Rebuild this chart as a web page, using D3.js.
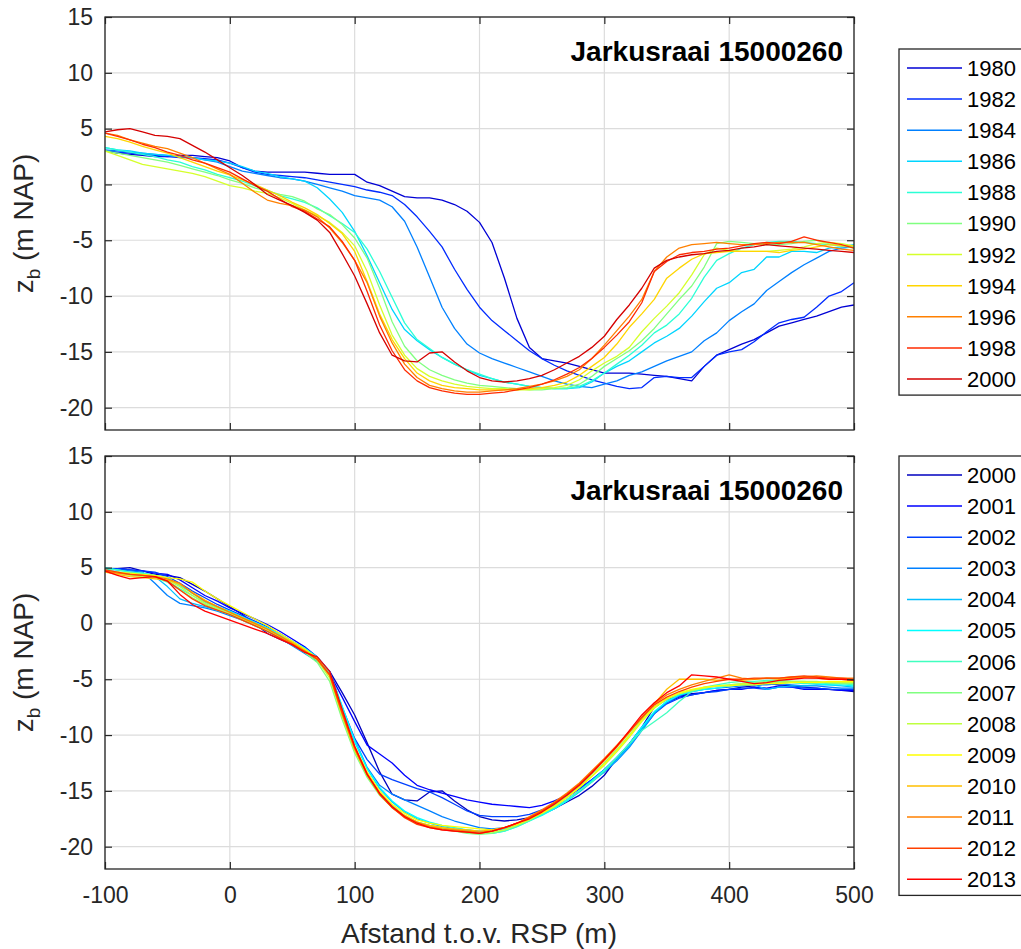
<!DOCTYPE html>
<html>
<head>
<meta charset="utf-8">
<script src="https://cdn.jsdelivr.net/npm/d3@7"></script>
<style>
  body { margin: 0; background: #fff; }
  svg { display: block; font-family: "Liberation Sans", Arial, Helvetica, sans-serif; }
</style>
</head>
<body>
<svg id="chart"></svg>
<script>
// afstand t.o.v. RSP (m)
var afstand = [-100, -90, -80, -70, -60, -50, -40, -30, -20, -10,
  0, 10, 20, 30, 40, 50, 60, 70, 80, 90,
  100, 110, 120, 130, 140, 150, 160, 170, 180, 190,
  200, 210, 220, 230, 240, 250, 260, 270, 280, 290,
  300, 310, 320, 330, 340, 350, 360, 370, 380, 390,
  400, 410, 420, 430, 440, 450, 460, 470, 480, 490,
  500];

var xTicks = [-100, 0, 100, 200, 300, 400, 500];
var yTicks = [-20, -15, -10, -5, 0, 5, 10, 15];
var titleText = "Jarkusraai 15000260";

// bodemligging z_b (m NAP) per jaar
var z1980 = [3.0, 2.8, 2.7, 2.6, 2.5, 2.5, 2.6, 2.6, 2.5, 2.4,
  2.1, 1.5, 1.2, 1.1, 1.1, 1.1, 1.1, 1.0, 0.9, 0.9,
  0.9, 0.2, -0.1, -0.6, -1.1, -1.2, -1.2, -1.4, -1.8, -2.4,
  -3.4, -5.2, -8.4, -12.0, -14.6, -15.6, -15.8, -16.0, -16.3, -16.6,
  -16.9, -16.9, -16.9, -17.0, -17.1, -17.2, -17.4, -17.6, -16.3, -15.3,
  -14.8, -14.3, -13.9, -13.3, -12.7, -12.4, -12.1, -11.8, -11.4, -11.0,
  -10.8];
var z1982 = [3.0, 2.9, 2.8, 2.7, 2.6, 2.5, 2.4, 2.4, 2.3, 2.2,
  1.9, 1.5, 1.1, 0.9, 0.8, 0.7, 0.6, 0.4, 0.2, 0.0,
  -0.2, -0.5, -0.7, -1.0, -1.8, -2.9, -4.2, -5.6, -7.6, -9.4,
  -11.0, -12.2, -13.1, -14.0, -14.9, -15.6, -16.2, -16.7, -17.1, -17.5,
  -17.8, -18.1, -18.3, -18.2, -17.3, -17.2, -17.3, -17.3, -16.3, -15.3,
  -15.0, -14.8, -14.1, -13.2, -12.4, -12.1, -11.9, -11.0, -10.0, -9.6,
  -8.8];
var z1984 = [3.1, 3.0, 2.9, 2.8, 2.7, 2.6, 2.5, 2.4, 2.2, 2.0,
  1.6, 1.2, 1.0, 0.8, 0.6, 0.5, 0.3, 0.0, -0.3, -0.6,
  -1.0, -1.2, -1.4, -2.0, -3.3, -5.6, -8.3, -11.0, -12.9, -14.3,
  -15.1, -15.6, -16.0, -16.4, -16.8, -17.2, -17.6, -17.9, -18.1, -18.2,
  -17.9, -17.6, -17.1, -16.8, -16.3, -15.8, -15.4, -15.0, -14.0, -13.3,
  -12.2, -11.4, -10.7, -9.5, -8.7, -7.9, -7.2, -6.6, -6.0, -5.7,
  -5.6];
var z1986 = [3.3, 3.1, 3.0, 2.8, 2.7, 2.6, 2.5, 2.4, 2.2, 2.1,
  1.9, 1.6, 1.2, 1.0, 0.7, 0.5, 0.3, -0.3, -1.3, -2.5,
  -4.2, -6.4, -8.8, -11.2, -13.0, -14.0, -14.8, -15.5, -16.1, -16.6,
  -17.1, -17.4, -17.7, -17.9, -18.1, -18.2, -18.3, -18.3, -18.2, -17.7,
  -16.9, -16.3, -15.8, -15.0, -14.2, -13.6, -12.9, -11.8, -10.5, -9.3,
  -8.8, -7.9, -7.6, -6.5, -6.5, -6.0, -6.0, -6.1, -5.7, -5.6,
  -5.4];
var z1988 = [3.3, 3.1, 2.9, 2.7, 2.5, 2.2, 2.0, 1.6, 1.3, 0.9,
  0.6, 0.3, -0.1, -0.5, -1.0, -1.3, -1.6, -2.1, -2.8, -3.5,
  -4.3, -5.8, -7.8, -10.1, -12.4, -13.9, -14.7, -15.5, -16.1, -16.6,
  -17.0, -17.4, -17.7, -17.9, -18.1, -18.2, -18.3, -18.3, -18.1, -17.6,
  -16.9, -16.1, -15.3, -14.4, -13.3, -12.6, -11.6, -10.2, -8.3, -6.8,
  -6.2, -5.7, -5.4, -5.2, -5.1, -5.1, -5.2, -5.3, -5.4, -5.5,
  -5.6];
var z1990 = [3.0, 2.8, 2.6, 2.4, 2.2, 2.0, 1.7, 1.4, 1.1, 0.8,
  0.4, 0.1, -0.3, -0.6, -0.9, -1.1, -1.5, -2.2, -2.7, -3.6,
  -4.8, -6.6, -9.3, -12.3, -14.5, -15.8, -16.6, -17.1, -17.5, -17.8,
  -18.0, -18.1, -18.2, -18.3, -18.4, -18.4, -18.3, -18.2, -17.9, -17.2,
  -16.3, -15.6, -14.9, -14.0, -12.9, -11.6, -10.3, -9.1, -7.4, -5.3,
  -5.1, -5.2, -5.3, -5.4, -5.4, -5.3, -5.1, -5.0, -5.3, -5.5,
  -5.7];
var z1992 = [3.0, 2.6, 2.2, 1.8, 1.6, 1.4, 1.2, 1.0, 0.7, 0.3,
  -0.1, -0.3, -0.6, -0.8, -1.2, -1.7, -2.3, -2.8, -3.4, -4.3,
  -5.5, -7.8, -10.8, -13.5, -15.3, -16.5, -17.2, -17.6, -17.9, -18.1,
  -18.2, -18.3, -18.3, -18.4, -18.4, -18.3, -18.2, -18.0, -17.5, -16.7,
  -16.0, -15.4, -14.6, -13.2, -12.0, -10.9, -9.7, -8.1, -6.3, -5.7,
  -5.9, -6.0, -6.0, -6.0, -5.9, -5.8, -5.6, -5.3, -5.2, -5.3,
  -5.5];
var z1994 = [4.3, 4.1, 3.8, 3.4, 3.1, 2.8, 2.4, 2.0, 1.6, 1.2,
  0.85, 0.4, 0.0, -0.5, -1.0, -1.6, -2.1, -2.7, -3.5, -4.4,
  -6.0, -8.7, -11.6, -13.9, -15.6, -16.9, -17.6, -18.0, -18.2, -18.3,
  -18.4, -18.4, -18.4, -18.4, -18.3, -18.2, -18.0, -17.7, -17.1, -16.3,
  -15.5, -14.3, -12.8, -11.6, -10.3, -8.4, -7.5, -6.7, -6.2, -6.1,
  -6.0, -6.0, -6.0, -6.0, -6.1, -5.9, -5.8, -5.6, -5.4, -5.5,
  -5.5];
var z1996 = [4.6, 4.4, 4.0, 3.7, 3.4, 3.2, 2.8, 2.4, 1.9, 1.4,
  0.9, 0.1, -0.7, -1.4, -1.7, -1.9, -2.3, -2.9, -3.9, -5.2,
  -6.8, -8.8, -11.8, -14.2, -16.1, -17.3, -18.0, -18.3, -18.5, -18.6,
  -18.6, -18.5, -18.4, -18.3, -18.1, -17.9, -17.6, -17.2, -16.6, -15.6,
  -14.4, -13.1, -11.8, -10.3, -7.8, -6.5, -5.7, -5.4, -5.3, -5.2,
  -5.3, -5.4, -5.4, -5.3, -5.2, -5.2, -5.2, -5.4, -5.6, -5.8,
  -5.9];
var z1998 = [4.6, 4.3, 4.0, 3.6, 3.3, 2.9, 2.6, 2.2, 1.9, 1.5,
  1.1, 0.5, -0.1, -0.6, -1.3, -2.0, -2.4, -3.1, -3.8, -5.1,
  -6.8, -9.6, -12.6, -14.9, -16.6, -17.6, -18.2, -18.5, -18.7, -18.8,
  -18.8, -18.7, -18.6, -18.4, -18.2, -17.9, -17.5, -17.0, -16.4, -15.6,
  -14.6, -13.5, -12.3, -10.6, -7.8, -6.9, -6.3, -6.1, -6.0, -5.8,
  -5.7, -5.5, -5.3, -5.2, -5.3, -5.1, -4.7, -5.0, -5.2, -5.4,
  -5.7];
var z2000 = [4.7, 4.9, 5.0, 4.7, 4.4, 4.3, 4.1, 3.5, 2.9, 2.2,
  1.5, 0.8, 0.0, -0.9, -1.4, -1.9, -2.5, -3.2, -4.3, -6.2,
  -8.2, -10.7, -13.3, -15.3, -15.8, -15.9, -15.1, -15.0, -15.9, -16.7,
  -17.3, -17.6, -17.7, -17.6, -17.4, -17.1, -16.6, -16.0, -15.4, -14.6,
  -13.6, -12.1, -10.8, -9.3, -7.5, -6.8, -6.5, -6.3, -6.2, -6.0,
  -5.9, -5.7, -5.6, -5.4, -5.5, -5.6, -5.7, -5.8, -5.9, -6.0,
  -6.1];
var z2001 = [4.9, 4.9, 4.8, 4.7, 4.5, 4.4, 3.9, 3.2, 2.5, 2.0,
  1.4, 0.9, 0.4, -0.1, -0.7, -1.4, -2.1, -3.0, -4.5, -6.6,
  -8.8, -10.9, -11.7, -12.5, -13.6, -14.5, -14.9, -15.2, -15.5, -15.8,
  -16.0, -16.2, -16.3, -16.4, -16.5, -16.3, -15.9, -15.4, -14.8, -14.0,
  -13.1, -12.0, -10.8, -9.4, -8.0, -7.1, -6.6, -6.4, -6.2, -6.0,
  -5.9, -5.9, -5.7, -5.8, -5.6, -5.7, -5.9, -5.9, -5.9, -6.0,
  -6.0];
var z2002 = [4.8, 4.9, 4.8, 4.7, 4.6, 4.2, 3.6, 2.9, 2.3, 1.7,
  1.2, 0.7, 0.2, -0.3, -0.9, -1.6, -2.3, -3.0, -4.3, -7.5,
  -10.3, -12.2, -13.5, -14.0, -14.4, -14.8, -15.1, -15.6, -16.2, -16.8,
  -17.2, -17.3, -17.3, -17.3, -17.1, -16.7, -16.3, -15.6, -14.8, -14.0,
  -13.1, -12.1, -10.9, -9.5, -8.1, -7.2, -6.7, -6.4, -6.2, -6.1,
  -5.9, -5.8, -5.8, -5.9, -5.7, -5.7, -5.8, -5.8, -5.9, -5.9,
  -5.9];
var z2003 = [4.9, 4.8, 4.7, 4.6, 3.6, 2.5, 1.8, 1.6, 1.4, 1.1,
  0.7, 0.3, -0.2, -0.7, -1.3, -2.0, -2.7, -3.4, -4.6, -7.6,
  -10.4, -12.9, -14.5, -15.3, -15.8, -16.3, -16.8, -17.3, -17.7, -18.0,
  -18.3, -18.4, -18.3, -18.0, -17.5, -17.0, -16.5, -15.8, -15.0, -14.1,
  -13.3, -12.3, -11.1, -9.6, -8.1, -7.1, -6.5, -6.1, -5.9, -5.8,
  -5.7, -5.6, -5.5, -5.5, -5.4, -5.5, -5.6, -5.6, -5.7, -5.8,
  -5.8];
var z2004 = [4.7, 4.6, 4.5, 4.4, 4.2, 3.3, 2.2, 1.8, 1.5, 1.2,
  0.8, 0.4, -0.1, -0.6, -1.2, -1.9, -2.6, -3.3, -4.5, -7.6,
  -10.6, -13.0, -14.8, -16.0, -16.9, -17.5, -17.9, -18.2, -18.4, -18.5,
  -18.6, -18.6, -18.4, -18.1, -17.6, -17.1, -16.6, -15.9, -15.1, -14.2,
  -13.3, -12.2, -11.0, -9.5, -8.0, -7.0, -6.4, -6.0, -5.8, -5.6,
  -5.6, -5.5, -5.5, -5.9, -5.7, -5.6, -5.6, -5.5, -5.5, -5.6,
  -5.7];
var z2005 = [5.0, 4.8, 4.6, 4.5, 4.3, 4.1, 3.4, 2.7, 2.0, 1.5,
  1.1, 0.6, 0.1, -0.4, -1.0, -1.6, -2.2, -3.0, -4.4, -7.4,
  -10.5, -13.0, -14.7, -15.9, -16.8, -17.4, -17.8, -18.1, -18.3, -18.5,
  -18.7, -18.8, -18.6, -18.2, -17.7, -17.2, -16.6, -15.9, -15.0, -14.1,
  -13.1, -12.0, -10.8, -9.3, -7.9, -7.0, -6.4, -6.1, -5.9, -5.8,
  -5.6, -5.5, -5.4, -5.4, -5.3, -5.3, -5.4, -5.4, -5.5, -5.5,
  -5.6];
var z2006 = [4.9, 4.8, 4.6, 4.5, 4.3, 3.8, 3.1, 2.5, 1.9, 1.4,
  1.0, 0.5, 0.0, -0.5, -1.1, -1.7, -2.4, -3.1, -4.6, -7.9,
  -11.0, -13.4, -15.1, -16.3, -17.2, -17.8, -18.1, -18.3, -18.5, -18.6,
  -18.8, -18.8, -18.6, -18.2, -17.7, -17.1, -16.5, -15.8, -15.0, -14.2,
  -13.2, -12.0, -10.8, -9.6, -8.8, -8.0, -7.0, -6.1, -5.7, -5.5,
  -5.3, -5.2, -5.2, -5.1, -5.1, -5.2, -5.3, -5.3, -5.4, -5.4,
  -5.5];
var z2007 = [4.8, 4.6, 4.4, 4.3, 4.1, 3.7, 3.0, 2.3, 1.7, 1.2,
  0.8, 0.3, -0.2, -0.7, -1.3, -1.9, -2.6, -3.5, -5.2, -8.6,
  -11.6, -13.8, -15.4, -16.5, -17.3, -17.9, -18.2, -18.4, -18.6, -18.8,
  -18.9, -18.8, -18.5, -18.1, -17.6, -17.0, -16.3, -15.5, -14.6, -13.5,
  -12.5, -11.3, -10.0, -8.6, -7.5, -6.8, -6.3, -6.0, -5.8, -5.6,
  -5.5, -5.4, -5.3, -5.2, -5.2, -5.2, -5.2, -5.3, -5.3, -5.4,
  -5.4];
var z2008 = [4.6, 4.5, 4.3, 4.2, 4.1, 3.9, 3.3, 2.5, 1.8, 1.3,
  0.9, 0.4, -0.1, -0.6, -1.2, -1.8, -2.5, -3.3, -4.9, -8.3,
  -11.4, -13.6, -15.2, -16.4, -17.2, -17.8, -18.1, -18.3, -18.5, -18.7,
  -18.8, -18.7, -18.5, -18.1, -17.6, -17.0, -16.4, -15.6, -14.7, -13.7,
  -12.7, -11.5, -10.2, -8.8, -7.6, -6.8, -6.3, -6.0, -5.8, -5.6,
  -5.5, -5.4, -5.4, -5.3, -5.3, -5.2, -5.2, -5.2, -5.3, -5.3,
  -5.3];
var z2009 = [4.7, 4.6, 4.5, 4.4, 4.3, 4.1, 4.0, 3.7, 2.9, 2.2,
  1.6, 1.0, 0.4, -0.2, -0.9, -1.6, -2.3, -3.1, -4.6, -7.9,
  -11.0, -13.3, -15.0, -16.2, -17.0, -17.6, -17.9, -18.1, -18.2, -18.3,
  -18.4, -18.5, -18.3, -18.0, -17.5, -17.0, -16.4, -15.6, -14.7, -13.7,
  -12.6, -11.4, -10.1, -8.7, -7.5, -6.7, -6.2, -5.9, -5.7, -5.6,
  -5.6, -5.5, -5.5, -5.4, -5.4, -5.3, -5.3, -5.3, -5.2, -5.2,
  -5.2];
var z2010 = [4.6, 4.4, 4.2, 4.1, 4.0, 3.9, 3.5, 2.8, 2.1, 1.5,
  1.0, 0.5, 0.0, -0.5, -1.1, -1.7, -2.4, -3.2, -4.7, -8.2,
  -11.3, -13.6, -15.3, -16.4, -17.2, -17.8, -18.1, -18.3, -18.4, -18.5,
  -18.6, -18.5, -18.3, -17.9, -17.4, -16.8, -16.1, -15.3, -14.4, -13.4,
  -12.3, -11.1, -9.8, -8.4, -7.2, -5.9, -5.0, -5.0, -5.0, -5.1,
  -5.0, -5.1, -5.0, -4.9, -5.0, -4.9, -4.8, -4.9, -5.0, -5.0,
  -5.1];
var z2011 = [4.7, 4.5, 4.4, 4.3, 4.2, 4.0, 3.6, 2.7, 2.0, 1.5,
  1.0, 0.5, 0.0, -0.5, -1.1, -1.8, -2.5, -3.2, -4.6, -8.0,
  -11.2, -13.6, -15.3, -16.5, -17.3, -17.8, -18.2, -18.4, -18.5, -18.6,
  -18.7, -18.6, -18.3, -17.9, -17.3, -16.7, -16.0, -15.2, -14.3, -13.2,
  -12.1, -10.9, -9.7, -8.5, -7.2, -6.4, -5.9, -5.5, -5.2, -4.9,
  -4.6, -4.9, -5.0, -4.9, -4.9, -4.8, -4.8, -4.7, -4.8, -4.9,
  -4.9];
var z2012 = [4.8, 4.6, 4.4, 4.3, 4.2, 3.8, 3.0, 2.2, 1.6, 1.2,
  0.8, 0.3, -0.2, -0.7, -1.3, -1.9, -2.5, -3.2, -4.6, -8.0,
  -11.1, -13.5, -15.3, -16.5, -17.4, -18.0, -18.3, -18.5, -18.6, -18.7,
  -18.8, -18.6, -18.3, -17.9, -17.4, -16.8, -16.1, -15.3, -14.4, -13.3,
  -12.2, -11.0, -9.7, -8.4, -7.3, -6.6, -6.1, -5.7, -5.4, -5.2,
  -5.0, -5.0, -4.9, -4.9, -4.9, -4.8, -4.7, -4.8, -4.9, -4.9,
  -5.0];
var z2013 = [4.7, 4.3, 4.0, 4.1, 4.2, 3.8, 2.6, 1.7, 1.1, 0.7,
  0.3, -0.1, -0.5, -0.9, -1.4, -1.9, -2.6, -3.0, -4.3, -7.7,
  -11.0, -13.5, -15.2, -16.4, -17.3, -17.9, -18.3, -18.5, -18.6, -18.7,
  -18.8, -18.6, -18.3, -17.9, -17.5, -16.9, -16.2, -15.4, -14.5, -13.4,
  -12.2, -11.0, -9.6, -8.2, -7.1, -6.2, -5.6, -4.6, -4.7, -4.8,
  -5.0, -5.2, -5.4, -5.3, -5.1, -5.0, -4.9, -4.9, -5.0, -5.0,
  -5.1];

var yearsTop = [1980, 1982, 1984, 1986, 1988, 1990, 1992, 1994, 1996, 1998, 2000];
var profilesTop = [z1980, z1982, z1984, z1986, z1988, z1990, z1992, z1994, z1996, z1998, z2000];
var yearsBottom = [2000, 2001, 2002, 2003, 2004, 2005, 2006, 2007, 2008, 2009, 2010, 2011, 2012, 2013];
var profilesBottom = [z2000, z2001, z2002, z2003, z2004, z2005, z2006, z2007, z2008, z2009, z2010, z2011, z2012, z2013];

// matlab style jet(n) colormap
var jet = function(n) {
  var m = Math.ceil(n / 4);
  var u = [];
  for (var i = 1; i <= m; i++) u.push(i / m);
  for (var i = 1; i < m; i++) u.push(1);
  for (var i = m; i >= 1; i--) u.push(i / m);
  var g0 = Math.ceil(m / 2) - (n % 4 === 1 ? 1 : 0);
  var J = d3.range(n).map(function() { return [0, 0, 0]; });
  u.forEach(function(v, k) {
    var g = g0 + k + 1, r = g + m, b = g - m;
    if (g >= 1 && g <= n) J[g - 1][1] = v;
    if (r >= 1 && r <= n) J[r - 1][0] = v;
    if (b >= 1 && b <= n) J[b - 1][2] = v;
  });
  return J.map(function(c) { return d3.rgb(c[0] * 255, c[1] * 255, c[2] * 255).formatHex(); });
};

var jet21 = jet(21);
var colorsTop = yearsTop.map(function(d, i) { return jet21[i * 2]; });
var colorsBottom = jet(14);

var screen = { width: 1021, height: 949 };
var axColor = "#262626";
var fontTick = 23;
var fontLabel = 28;
var plainNum = function(d) { return String(d); };  // hyphen minus like matlab

var svg = d3.select("#chart")
  .attr("width", screen.width)
  .attr("height", screen.height);

svg.append("rect").attr("width", screen.width).attr("height", screen.height).attr("fill", "#fff");

var xScale = d3.scaleLinear().domain([-100, 500]).range([105, 854]);

var drawPanel = function(top, bottom, years, profiles, colors, showX, legendTop) {
  var yScale = d3.scaleLinear().domain([-22, 15]).range([bottom, top]);
  var g = svg.append("g");

  // grid
  g.selectAll(".gx").data(xTicks).enter().append("line")
    .attr("x1", function(d) { return xScale(d); }).attr("x2", function(d) { return xScale(d); })
    .attr("y1", top).attr("y2", bottom)
    .attr("stroke", "#dcdcdc").attr("stroke-width", 1.2);
  g.selectAll(".gy").data(yTicks).enter().append("line")
    .attr("x1", 105).attr("x2", 854)
    .attr("y1", function(d) { return yScale(d); }).attr("y2", function(d) { return yScale(d); })
    .attr("stroke", "#dcdcdc").attr("stroke-width", 1.2);

  // profiles
  var clipId = "clip" + top;
  g.append("clipPath").attr("id", clipId).append("rect")
    .attr("x", 105).attr("y", top).attr("width", 749).attr("height", bottom - top);
  var line = d3.line()
    .x(function(d, i) { return xScale(afstand[i]); })
    .y(function(d) { return yScale(d); });
  g.append("g").attr("clip-path", "url(#" + clipId + ")")
    .selectAll("path").data(profiles).enter().append("path")
    .attr("d", line)
    .attr("fill", "none")
    .attr("stroke", function(d, i) { return colors[i]; })
    .attr("stroke-width", 1.3)
    .attr("stroke-linejoin", "round");

  // axes, ticks inward like matlab
  var left = g.append("g").attr("transform", "translate(105,0)")
    .call(d3.axisLeft(yScale).tickValues(yTicks).tickSize(-7).tickPadding(12).tickFormat(plainNum));
  var right = g.append("g").attr("transform", "translate(854,0)")
    .call(d3.axisRight(yScale).tickValues(yTicks).tickSize(-7).tickFormat(""));
  var topAx = g.append("g").attr("transform", "translate(0," + top + ")")
    .call(d3.axisTop(xScale).tickValues(xTicks).tickSize(-7).tickFormat(""));
  var botAx = g.append("g").attr("transform", "translate(0," + bottom + ")")
    .call(d3.axisBottom(xScale).tickValues(xTicks).tickSize(-7).tickPadding(18)
      .tickFormat(showX ? plainNum : ""));
  [left, right, topAx, botAx].forEach(function(a) {
    a.select(".domain").remove();
    a.selectAll("line").attr("stroke", axColor).attr("stroke-width", 1.2);
    a.selectAll("text").attr("fill", axColor).attr("font-size", fontTick)
      .attr("font-family", "Liberation Sans, Arial, sans-serif");
  });

  g.append("rect")
    .attr("x", 105).attr("y", top).attr("width", 749).attr("height", bottom - top)
    .attr("fill", "none").attr("stroke", axColor).attr("stroke-width", 1.3);

  // title inside axes
  g.append("text")
    .attr("x", 843).attr("y", top + 44)
    .attr("text-anchor", "end")
    .attr("font-size", 28).attr("font-weight", "bold").attr("fill", "#000")
    .text(titleText);

  // y label
  var yl = g.append("text")
    .attr("transform", "translate(33," + ((top + bottom) / 2) + ") rotate(-90)")
    .attr("text-anchor", "middle")
    .attr("font-size", fontLabel).attr("fill", axColor);
  yl.append("tspan").text("z");
  yl.append("tspan").attr("font-size", 19).attr("dy", 7).text("b");
  yl.append("tspan").attr("dy", -7).text(" (m NAP)");

  // legend
  var rowH = 31.1;
  var legH = years.length * rowH + 4;
  var leg = g.append("g");
  leg.append("rect")
    .attr("x", 899).attr("y", legendTop).attr("width", 140).attr("height", legH)
    .attr("fill", "#fff").attr("stroke", axColor).attr("stroke-width", 1.3);
  var rows = leg.selectAll(".row").data(years).enter().append("g")
    .attr("transform", function(d, i) { return "translate(0," + (legendTop + 19 + i * rowH) + ")"; });
  rows.append("line")
    .attr("x1", 907).attr("x2", 962).attr("y1", 0).attr("y2", 0)
    .attr("stroke", function(d, i) { return colors[i]; }).attr("stroke-width", 1.5);
  rows.append("text")
    .attr("x", 967).attr("y", 0).attr("dy", "0.36em")
    .attr("font-size", 22).attr("fill", "#000")
    .text(function(d) { return d; });
};

drawPanel(17, 430, yearsTop, profilesTop, colorsTop, false, 49);
drawPanel(456, 869, yearsBottom, profilesBottom, colorsBottom, true, 456);

svg.append("text")
  .attr("x", 479).attr("y", 943)
  .attr("text-anchor", "middle")
  .attr("font-size", fontLabel).attr("fill", axColor)
  .text("Afstand t.o.v. RSP (m)");
</script>
</body>
</html>
